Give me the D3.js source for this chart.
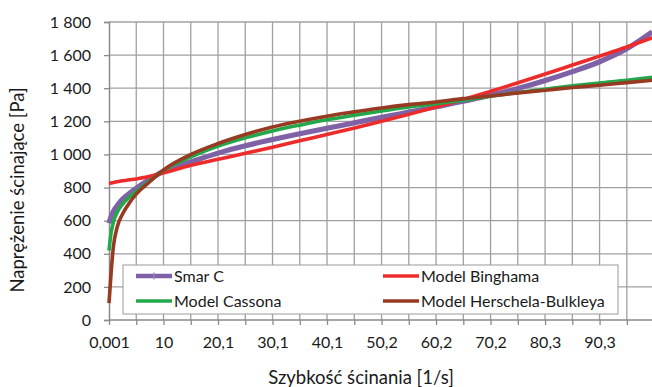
<!DOCTYPE html>
<html>
<head>
<meta charset="utf-8">
<title>Smar C</title>
<script src="https://d3js.org/d3.v7.min.js"></script>
<style>
body { margin: 0; background: #fff; }
text { font-family: Lato, "Open Sans", sans-serif; fill: #1a1a1a; }
</style>
</head>
<body>
<div id="chart"></div>
<script>

// shear rate [1/s] at which the curves were read
var shearRate = [0.001, 0.4, 0.8, 1.5, 2.5, 3.5, 5, 7.5, 10, 15.1, 20.1, 25.1, 30.1, 35.1, 40.1, 45.2,
                 50.2, 55.2, 60.2, 65.2, 70.2, 75.3, 80.3, 85.3, 90.3, 95.3, 100];

var smarC     = [585, 625, 655, 690, 730, 758, 795, 850, 898, 955, 1008, 1052, 1090, 1125, 1158, 1191,
                 1224, 1256, 1288, 1321, 1358, 1398, 1446, 1500, 1560, 1638, 1740];
var bingham   = [824, 827, 830, 835, 841, 846, 852, 868, 888, 935, 971, 1007, 1044, 1082, 1121, 1160,
                 1200, 1242, 1286, 1332, 1381, 1433, 1486, 1540, 1594, 1649, 1705];
var casson    = [420, 530, 590, 650, 700, 735, 775, 840, 903, 985, 1050, 1100, 1142, 1177, 1209, 1237,
                 1263, 1287, 1307, 1327, 1351, 1374, 1394, 1414, 1432, 1448, 1466];
var herschel  = [102, 290, 440, 560, 640, 695, 760, 835, 905, 1000, 1066, 1120, 1166, 1201, 1231, 1257,
                 1281, 1301, 1317, 1337, 1353, 1372, 1388, 1404, 1418, 1434, 1448];

var xLabels = ["0,001", "10", "20,1", "30,1", "40,1", "50,2", "60,2", "70,2", "80,3", "90,3"];
var yTicks = [0, 200, 400, 600, 800, 1000, 1200, 1400, 1600, 1800];

var seriesNames = ["Smar C", "Model Binghama", "Model Cassona", "Model Herschela-Bulkleya"];
var seriesColors = ["#7f62a6", "#ee2b2b", "#22a84a", "#983a22"];
var seriesValues = [smarC, bingham, casson, herschel];

var margin = {top: 22, right: 0, bottom: 67, left: 109};
var width = 652 - margin.left - margin.right;
var height = 387 - margin.top - margin.bottom;

var svg = d3.select("#chart").append("svg")
    .attr("width", 652)
    .attr("height", 387)
  .append("g")
    .attr("transform", "translate(" + margin.left + "," + margin.top + ")");

var x = d3.scaleLinear().domain([0.001, 99.95]).range([0, width]);
var y = d3.scaleLinear().domain([0, 1800]).range([height, 0]);

// category axis: one gridline every half label step
var step = (90.3 - 0.001) / 18;
var gridX = d3.range(20).map(function(k) { return 0.001 + k * step; });
var labelX = d3.range(10).map(function(k) { return 0.001 + 2 * k * step; });

var pl = d3.formatLocale({decimal: ",", thousands: " ", grouping: [3], currency: ["", " zł"]});
var fmtY = pl.format(",d");

// gridlines
svg.append("g").selectAll("line.gx").data(gridX.slice(1)).enter().append("line")
    .attr("x1", function(d) { return x(d); })
    .attr("x2", function(d) { return x(d); })
    .attr("y1", 0).attr("y2", height)
    .attr("stroke", "#a0a0a0").attr("stroke-width", 1.3);

svg.append("g").selectAll("line.gy").data(yTicks.slice(1)).enter().append("line")
    .attr("x1", 0).attr("x2", width)
    .attr("y1", function(d) { return y(d); })
    .attr("y2", function(d) { return y(d); })
    .attr("stroke", "#a0a0a0").attr("stroke-width", 1.3);

// axes
var axisY = d3.axisLeft(y).tickValues(yTicks).tickSize(5).tickPadding(13).tickFormat(fmtY);
var gy = svg.append("g").call(axisY);
gy.select(".domain").attr("stroke", "#8a8a8a").attr("stroke-width", 1.5);
gy.selectAll(".tick line").attr("stroke", "#8a8a8a").attr("stroke-width", 1.3);
gy.selectAll("text").style("font-size", "16px").style("font-family", "Lato").attr("fill", "#1a1a1a");

var axisXg = d3.axisBottom(x).tickValues(gridX).tickSize(5).tickFormat("");
var gx = svg.append("g").attr("transform", "translate(0," + height + ")").call(axisXg);
gx.select(".domain").attr("stroke", "#8a8a8a").attr("stroke-width", 1.5).attr("d", "M0,0H" + width);
gx.selectAll(".tick line").attr("stroke", "#8a8a8a").attr("stroke-width", 1.3);

var axisXl = d3.axisBottom(x).tickValues(labelX).tickSize(0).tickPadding(17)
    .tickFormat(function(d, i) { return xLabels[i]; });
var gxl = svg.append("g").attr("transform", "translate(0," + height + ")").call(axisXl);
gxl.select(".domain").remove();
gxl.selectAll("text").style("font-size", "16px").style("font-family", "Lato").attr("fill", "#1a1a1a");

// series
var line = d3.line()
    .x(function(d) { return x(d[0]); })
    .y(function(d) { return y(d[1]); })
    .curve(d3.curveMonotoneX);

seriesValues.forEach(function(vals, s) {
  svg.append("path")
    .datum(shearRate.map(function(r, i) { return [r, vals[i]]; }))
    .attr("fill", "none")
    .attr("stroke", seriesColors[s])
    .attr("stroke-width", s === 0 ? 5.2 : 3.6)
    .attr("d", line);
});

// legend
var lg = svg.append("g").attr("transform", "translate(" + (123 - margin.left) + "," + (265 - margin.top) + ")");
lg.append("rect").attr("width", 495).attr("height", 49)
    .attr("fill", "#fff").attr("stroke", "#9a9a9a").attr("stroke-width", 1);

var legendPos = [[13, 11], [260, 11], [13, 36], [260, 36]];
seriesNames.forEach(function(name, s) {
  var p = legendPos[s];
  lg.append("line")
    .attr("x1", p[0]).attr("x2", p[0] + 36)
    .attr("y1", p[1]).attr("y2", p[1])
    .attr("stroke", seriesColors[s]).attr("stroke-width", s === 0 ? 4.5 : 3.6);
  if (s === 0) {
    // small marker of the measured series
    lg.append("path")
      .attr("d", "M" + (p[0] + 18) + "," + (p[1] - 3.5) + "v7")
      .attr("stroke", "#9a86bd").attr("stroke-width", 1.2);
  }
  lg.append("text")
    .attr("x", p[0] + 38).attr("y", p[1])
    .attr("dy", "0.35em")
    .style("font-size", "16px")
    .text(name);
});

// axis titles
svg.append("text")
    .attr("x", 361 - margin.left).attr("y", 378 - margin.top)
    .attr("dy", "0.35em")
    .style("text-anchor", "middle")
    .style("font-size", "18.5px")
    .text("Szybkość ścinania [1/s]");

svg.append("text")
    .attr("transform", "rotate(-90)")
    .attr("x", -(190 - margin.top)).attr("y", 18 - margin.left)
    .attr("dy", "0.35em")
    .style("text-anchor", "middle")
    .style("font-size", "18.5px")
    .text("Naprężenie ścinające [Pa]");

</script>
</body>
</html>
